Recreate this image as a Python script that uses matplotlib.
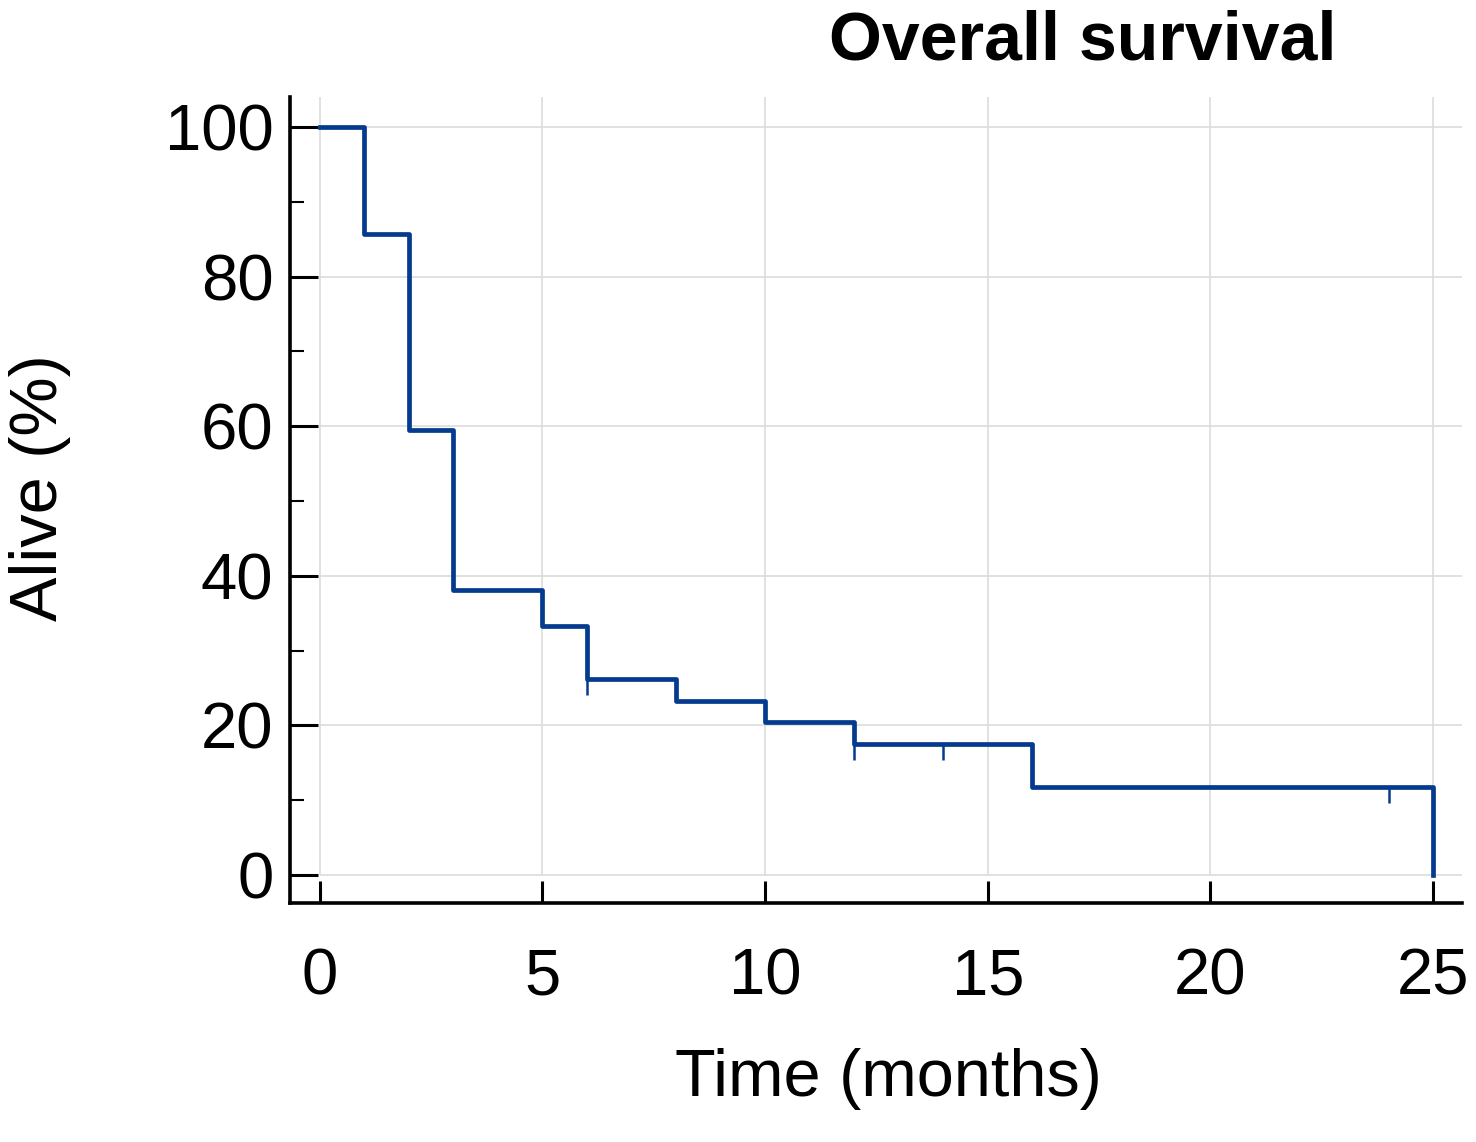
import matplotlib.pyplot as plt

# Kaplan-Meier estimate
times = [0, 1, 2, 3, 5, 6, 8, 10, 12, 16, 25]
alive = [100, 85.7, 59.5, 38.1, 33.3, 26.2, 23.3, 20.4, 17.5, 11.7, 0]
# censored observations (little hanging ticks)
cens_t = [6, 12, 14, 24]
cens_s = [26.2, 17.5, 17.5, 11.7]

xticks = [0, 5, 10, 15, 20, 25]
yticks = [0, 20, 40, 60, 80, 100]
yminor = [10, 30, 50, 70, 90]

plt.rcParams['font.family'] = ['Liberation Sans', 'DejaVu Sans']

fig = plt.figure(figsize=(14.76, 11.42), dpi=100)
ax = fig.add_axes([290 / 1476, 1 - 903 / 1142, 1172 / 1476, 806 / 1142])

x_lo, x_hi = -0.67, 25.65
y_lo, y_hi = -3.75, 104
ax.set_xlim(x_lo, x_hi)
ax.set_ylim(y_lo, y_hi)

# grid only covers the data area, not the gap next to the spines
ax.vlines(xticks, 0, y_hi, color='#dcdcdc', lw=1.2, zorder=0)
ax.hlines(yticks, 0, x_hi, color='#dcdcdc', lw=1.2, zorder=0)

ax.step(times, alive, where='post', color='#053b8e', lw=3.4, zorder=3)
ax.vlines(cens_t, [s - 2.1 for s in cens_s], cens_s, color='#053b8e', lw=1.8, zorder=3)

for s in ['top', 'right']:
    ax.spines[s].set_visible(False)
for s in ['left', 'bottom']:
    ax.spines[s].set_linewidth(2.6)

ax.set_xticks(xticks)
ax.set_yticks(yticks)
ax.set_yticks(yminor, minor=True)
ax.tick_params(axis='y', which='major', direction='in', length=20, width=2.2, labelsize=47, pad=12)
ax.tick_params(axis='y', which='minor', direction='in', length=10, width=1.5)
ax.tick_params(axis='x', which='major', direction='in', length=16, width=2.2, labelsize=47, pad=32)

ax.set_xlabel('Time (months)', fontsize=48, ha='center', va='center')
ax.xaxis.set_label_coords(0.511, -0.218)
ax.set_ylabel('Alive (%)', fontsize=48, ha='center', va='center')
ax.yaxis.set_label_coords(-0.213, 0.515)

fig.text(1083 / 1476, 1 - 60 / 1142, 'Overall survival', fontsize=49, fontweight='bold',
         ha='center', va='baseline')

fig.savefig('out.png', dpi=100)
